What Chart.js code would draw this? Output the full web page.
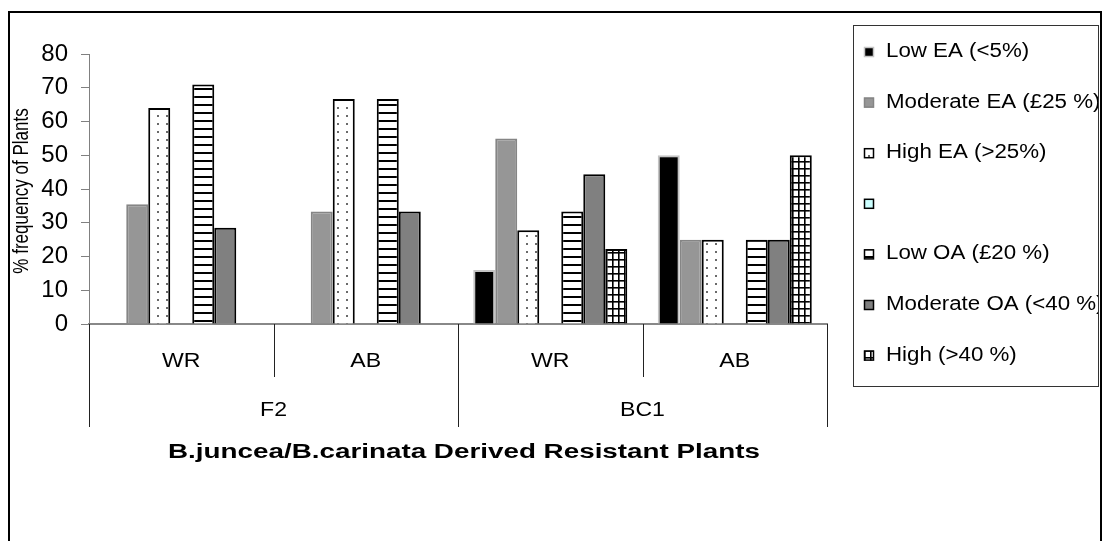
<!DOCTYPE html>
<html>
<head>
<meta charset="utf-8">
<script src="https://cdn.jsdelivr.net/npm/chart.js@4.4.0/dist/chart.umd.min.js"></script>
<style>
  html, body { margin: 0; padding: 0; background: #fff; }
  #wrap { width: 1103px; height: 541px; }
</style>
</head>
<body>
<div id="wrap"><canvas id="chart" width="1103" height="541"></canvas></div>
<script>
// categories: lines within each generation
const subgroups = ['WR', 'AB', 'WR', 'AB'];
const generations = ['F2', 'BC1'];
const yTitle = '% frequency of Plants';
const xTitle = 'B.juncea/B.carinata Derived Resistant Plants';

// series (% of plants), null = no bar
const seriesNames = ['Low EA (<5%)', 'Moderate EA (£25 %)', 'High EA (>25%)', '',
  'Low OA (£20 %)', 'Moderate OA (<40 %)', 'High (>40 %)'];
const lowEA = [null, null, 16, 50];
const moderateEA = [35.5, 33.3, 55, 25];
const highEA = [64, 66.7, 27.8, 25];
const spacer = [null, null, null, null];
const lowOA = [71, 66.7, 33.3, 25];
const moderateOA = [28.5, 33.3, 44.4, 25];
const highOA = [null, null, 22.2, 50];

const yMin = 0, yMax = 80, yStep = 10;

const canvas = document.getElementById('chart');
const ctx = canvas.getContext('2d');

// small repeating fills that stand in for the hatch patterns
function tile(w, h, paint) {
  const c = document.createElement('canvas');
  c.width = w; c.height = h;
  const g = c.getContext('2d');
  g.fillStyle = '#ffffff';
  g.fillRect(0, 0, w, h);
  paint(g);
  return ctx.createPattern(c, 'repeat');
}
const dotted = tile(9, 8, g => { g.fillStyle = '#6a6a6a'; g.fillRect(4, 3, 2, 2); });
const striped = tile(4, 8, g => { g.fillStyle = '#000'; g.fillRect(0, 0, 4, 2); });
const gridded = tile(6, 7, g => {
  g.fillStyle = '#000';
  g.fillRect(0, 0, 6, 1.6);
  g.fillRect(0, 0, 1.6, 7);
});

const seriesData = [lowEA, moderateEA, highEA, spacer, lowOA, moderateOA, highOA];
const fills = ['#000000', '#969696', dotted, '#ccffff', striped, '#808080', gridded];
const edges = ['#c4c4c4', '#858585', '#000000', '#000000', '#000000', '#000000', '#000000'];

const FONT = '"Liberation Sans", Arial, sans-serif';

function stretchedText(c, text, x, y, font, align, sx) {
  c.save();
  c.font = font;
  c.textAlign = align;
  c.translate(x, y);
  c.scale(sx, 1);
  c.fillText(text, 0, 0);
  c.restore();
}

const decor = {
  id: 'decor',
  beforeDraw(chart) {
    const c = chart.ctx;
    c.save();
    c.fillStyle = '#fff';
    c.fillRect(0, 0, chart.width, chart.height);
    // outer chart frame (bottom edge is off the picture)
    c.strokeStyle = '#000';
    c.lineWidth = 2;
    c.beginPath();
    c.moveTo(9, 560);
    c.lineTo(9, 12);
    c.lineTo(1101, 12);
    c.lineTo(1101, 560);
    c.stroke();
    c.restore();
  },
  afterDraw(chart) {
    const c = chart.ctx;
    const xs = chart.scales.x;
    const bottom = chart.chartArea.bottom;
    c.save();
    c.fillStyle = '#000';

    // grouped category axis: separators and two rows of labels
    c.strokeStyle = '#222';
    c.lineWidth = 1;
    for (let i = 0; i <= subgroups.length; i++) {
      const x = Math.round(xs.getPixelForValue(i - 0.5)) + 0.5;
      const len = (i % 2 === 0) ? 103 : 53;
      c.beginPath();
      c.moveTo(x, bottom);
      c.lineTo(x, bottom + len);
      c.stroke();
    }
    subgroups.forEach((s, i) => {
      stretchedText(c, s, xs.getPixelForValue(i), 367, '21px ' + FONT, 'center', 1.1);
    });
    generations.forEach((g, j) => {
      const x = (xs.getPixelForValue(2 * j - 0.5) + xs.getPixelForValue(2 * j + 1.5)) / 2;
      stretchedText(c, g, x, 416, '21px ' + FONT, 'center', 1.1);
    });

    // x title, stretched to the width it has in the picture
    c.font = 'bold 20px ' + FONT;
    const tw = c.measureText(xTitle).width;
    stretchedText(c, xTitle, 464, 458, 'bold 20px ' + FONT, 'center', 592 / tw);

    // y title
    c.save();
    c.translate(22, 191);
    c.rotate(-Math.PI / 2);
    c.scale(1, 1.3);
    c.font = '17px ' + FONT;
    c.textAlign = 'center';
    c.textBaseline = 'middle';
    c.fillText(yTitle, 0, 0);
    c.restore();

    // legend
    c.strokeStyle = '#333';
    c.lineWidth = 1;
    c.strokeRect(853.5, 25.5, 245, 361);
    c.save();
    c.beginPath();
    c.rect(854, 26, 244, 360);
    c.clip();
    chart.data.datasets.forEach((ds, i) => {
      const yb = 57 + i * 50.6;
      c.fillStyle = ds.backgroundColor;
      c.fillRect(864, yb - 10, 10, 10);
      c.strokeStyle = ds.borderColor;
      c.lineWidth = 1.5;
      c.strokeRect(864.5, yb - 9.5, 9, 9);
      c.fillStyle = '#000';
      stretchedText(c, ds.label, 886, yb, '20px ' + FONT, 'left', 1.115);
    });
    c.restore();

    c.restore();
  }
};

new Chart(ctx, {
  type: 'bar',
  data: {
    labels: subgroups,
    datasets: seriesNames.map((name, i) => ({
      label: name,
      data: seriesData[i],
      backgroundColor: fills[i],
      borderColor: edges[i],
      borderWidth: 2,
      categoryPercentage: 0.835,
      barPercentage: 1
    }))
  },
  options: {
    responsive: false,
    animation: false,
    devicePixelRatio: 1,
    layout: { padding: { top: 54, right: 276, left: 0, bottom: 0 } },
    plugins: {
      legend: { display: false },
      tooltip: { enabled: false },
      title: { display: false }
    },
    scales: {
      x: {
        grid: { display: false },
        ticks: { display: false },
        border: { color: '#888', width: 2 },
        afterFit(scale) { scale.height = 217; }
      },
      y: {
        min: yMin,
        max: yMax,
        ticks: {
          stepSize: yStep,
          color: '#000',
          padding: 13,
          font: { family: FONT, size: 24 }
        },
        grid: {
          drawOnChartArea: false,
          tickLength: 8,
          color: '#808080'
        },
        border: { color: '#808080', width: 1 },
        afterFit(scale) { scale.width = 89; }
      }
    }
  },
  plugins: [decor]
});
</script>
</body>
</html>
